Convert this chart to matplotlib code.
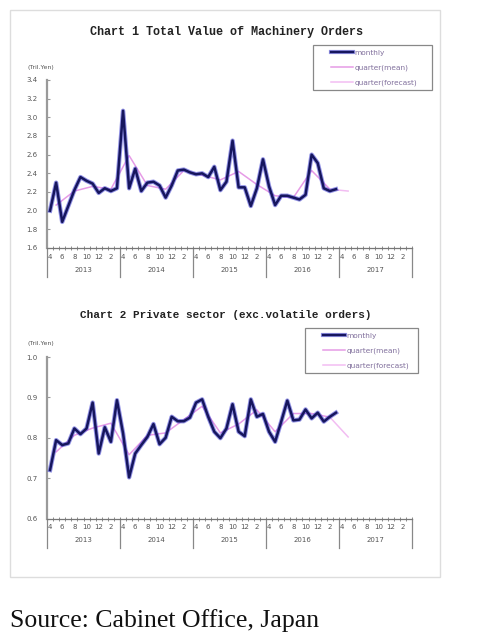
import matplotlib
matplotlib.use("Agg")
import matplotlib.pyplot as plt
import matplotlib.transforms as mtransforms
from matplotlib.lines import Line2D
from matplotlib.patches import Rectangle
import numpy as np

# ---- data (trillion yen), fiscal years Apr 2013 - Mar 2017 ----
fiscal_years = ["2013", "2014", "2015", "2016", "2017"]
month_labels = ["4", "6", "8", "10", "12", "2"]

total_monthly = [2.00, 2.30, 1.88, 2.05, 2.22, 2.36, 2.32, 2.29, 2.19, 2.24, 2.21, 2.24,
                 3.07, 2.24, 2.45, 2.21, 2.30, 2.31, 2.27, 2.14, 2.27, 2.43, 2.44, 2.41,
                 2.39, 2.40, 2.36, 2.47, 2.22, 2.31, 2.75, 2.25, 2.25, 2.05, 2.24, 2.55,
                 2.26, 2.06, 2.16, 2.16, 2.14, 2.12, 2.17, 2.60, 2.51, 2.24, 2.21, 2.23]
total_quarter = [2.06, 2.21, 2.26, 2.23, 2.59, 2.27, 2.23, 2.43,
                 2.38, 2.33, 2.42, 2.28, 2.16, 2.14, 2.43, 2.23]
total_forecast = [2.23, 2.21]

private_monthly = [0.720, 0.794, 0.782, 0.786, 0.823, 0.809, 0.823, 0.887, 0.761, 0.826, 0.790, 0.893,
                   0.811, 0.702, 0.761, 0.782, 0.802, 0.834, 0.784, 0.800, 0.852, 0.841, 0.841, 0.850,
                   0.887, 0.895, 0.852, 0.815, 0.799, 0.823, 0.883, 0.815, 0.804, 0.895, 0.852, 0.859,
                   0.815, 0.790, 0.840, 0.892, 0.843, 0.845, 0.870, 0.848, 0.862, 0.840, 0.852, 0.862]
private_quarter = [0.765, 0.806, 0.824, 0.836, 0.758, 0.806, 0.812, 0.845,
                   0.878, 0.812, 0.834, 0.869, 0.815, 0.860, 0.860, 0.851]
private_forecast = [0.851, 0.802]

W, H = 499, 643
fig = plt.figure(figsize=(W / 100, H / 100), dpi=100)
fig.patch.set_facecolor("white")

NAVY = "#16165e"
GLOW = "#3b3bd0"
PINK = "#e69be6"
PINK2 = "#f2bdf2"
AXC = "#9a9a9a"
TXT = "#555555"


def fig_box(x0, y0, x1, y1):
    return [x0 / W, 1 - y1 / H, (x1 - x0) / W, (y1 - y0) / H]


def draw_panel(rect, monthly, quarter, forecast, ylim, yticks, yfmt, title, title_y,
               title_size, unit_y, legend_box):
    ax = fig.add_axes(rect)
    n_months = len(fiscal_years) * 12
    ax.set_xlim(0, n_months)
    ax.set_ylim(*ylim)

    xm = np.arange(len(monthly)) + 0.5
    xq = np.arange(len(quarter)) * 3 + 1.5
    xf = np.array([xq[-1], xq[-1] + 3])

    ax.plot(xq, quarter, color=PINK, lw=1.1, zorder=2)
    ax.plot(xf, forecast, color=PINK2, lw=1.1, zorder=2)
    ax.plot(xm, monthly, color=GLOW, lw=3.2, alpha=0.55, zorder=3,
            solid_joinstyle="round")
    ax.plot(xm, monthly, color=NAVY, lw=1.8, zorder=4, solid_joinstyle="round")

    for s in ("top", "right"):
        ax.spines[s].set_visible(False)
    ax.spines["left"].set_color(AXC)
    ax.spines["left"].set_linewidth(1.6)
    ax.spines["bottom"].set_color("#777777")
    ax.spines["bottom"].set_linewidth(0.9)

    ax.set_yticks(yticks)
    ax.set_yticklabels([yfmt.format(v) for v in yticks])
    ax.tick_params(axis="y", direction="in", length=2, width=0.8, color=AXC,
                   labelsize=5, labelcolor=TXT, pad=7)

    # month ticks along the axis and labels every second month
    ax.set_xticks(np.arange(0, n_months + 1), minor=True)
    lab_pos = []
    lab_txt = []
    for y in range(len(fiscal_years)):
        for k, lab in enumerate(month_labels):
            lab_pos.append(y * 12 + k * 2 + 0.5)
            lab_txt.append(lab)
    ax.set_xticks(lab_pos)
    ax.set_xticklabels(lab_txt)
    ax.tick_params(axis="x", which="major", length=0, labelsize=5, labelcolor=TXT, pad=4)
    ax.tick_params(axis="x", which="minor", direction="inout", length=2.5, width=0.6,
                   color="#777777")

    trans = mtransforms.blended_transform_factory(ax.transData, ax.transAxes)
    h_px = rect[3] * H
    for y in range(len(fiscal_years) + 1):
        ax.plot([y * 12, y * 12], [0, -29 / h_px], color="#888888", lw=0.9,
                transform=trans, clip_on=False)
    for y, name in enumerate(fiscal_years):
        ax.text(y * 12 + 6, -22 / h_px, name, transform=trans, ha="center",
                va="center", fontsize=5, color=TXT)

    fig.text(226 / W, 1 - title_y / H, title, ha="center", va="center",
             family="Liberation Mono", weight="bold", fontsize=title_size, color="#222222")
    fig.text(27 / W, 1 - unit_y / H, "(Tril.Yen)", ha="left", va="center",
             fontsize=4.5, color=TXT)

    # legend with its own frame
    x0, y0, x1, y1 = legend_box
    fig.patches.append(Rectangle((x0 / W, 1 - y1 / H), (x1 - x0) / W, (y1 - y0) / H,
                                 transform=fig.transFigure, fill=False,
                                 edgecolor="#888888", lw=0.9))
    handles = [
        (Line2D([], [], color=GLOW, lw=3.0, alpha=0.55),
         Line2D([], [], color=NAVY, lw=1.7)),
        Line2D([], [], color=PINK, lw=1.1),
        Line2D([], [], color=PINK2, lw=1.1),
    ]
    fig.legend(handles, ["monthly", "quarter(mean)", "quarter(forecast)"],
               loc="upper left", bbox_to_anchor=((x0 + 14) / W, 1 - (y0 + 1) / H),
               fontsize=5.3, frameon=False, handlelength=3.0,
               handletextpad=0.2, labelspacing=1.15, borderpad=0.5,
               borderaxespad=0, labelcolor="#806f9c")
    return ax


draw_panel(fig_box(47, 80, 412, 248), total_monthly, total_quarter, total_forecast,
           (1.6, 3.4), np.round(np.arange(1.6, 3.41, 0.2), 1), "{:.1f}",
           "Chart 1 Total Value of Machinery Orders", 32, 8.5, 68, (313, 45, 432, 90))

draw_panel(fig_box(47, 357, 412, 518.5), private_monthly, private_quarter, private_forecast,
           (0.6, 1.0), np.round(np.arange(0.6, 1.01, 0.1), 1), "{:.1f}",
           "Chart 2 Private sector (exc.volatile orders)", 315, 7.9, 344, (305, 328, 418, 373))

# light frame around both charts
fig.patches.append(Rectangle((10 / W, 1 - 577 / H), 430 / W, 567 / H,
                             transform=fig.transFigure, fill=False,
                             edgecolor="#dddddd", lw=1.0))

fig.text(10 / W, 1 - 621 / H, "Source: Cabinet Office, Japan", ha="left", va="center",
         family="Liberation Serif", fontsize=18.5, color="#111111")

fig.savefig("out.png", dpi=100, facecolor="white")
